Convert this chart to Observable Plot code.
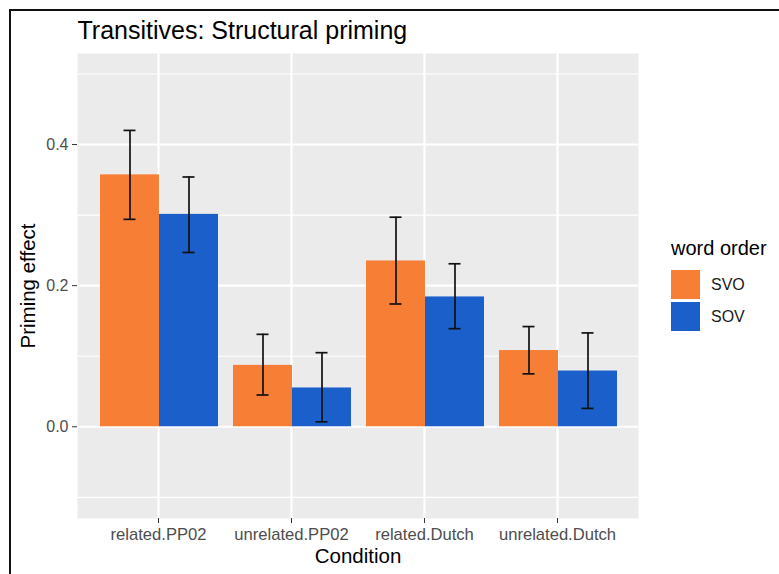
<!DOCTYPE html>
<html>
<head>
<meta charset="utf-8">
<script src="https://cdn.jsdelivr.net/npm/d3@7"></script>
<script src="https://cdn.jsdelivr.net/npm/@observablehq/plot@0.6"></script>
<style>
  body { margin: 0; background: #fff; }
  #chart { position: relative; width: 779px; height: 574px; overflow: hidden; font-family: "Liberation Sans", Arial, sans-serif; }
  #chart svg { position: absolute; left: 0; top: 0; }
  #edge { position: absolute; left: 9px; top: 9px; right: -20px; bottom: -20px; border-top: 2px solid #111; border-left: 2px solid #111; }
  #legend { position: absolute; left: 671px; top: 237px; color: #000; }
  #legend .title { font-size: 20px; line-height: 22px; height: 33px; }
  #legend .item { display: flex; align-items: center; height: 29px; margin-bottom: 3px; }
  #legend .key { width: 29px; height: 29px; margin-right: 11px; }
  #legend .label { font-size: 16px; color: #1a1a1a; }
</style>
</head>
<body>
<div id="chart">
  <div id="edge"></div>
</div>
<script>
// Conditions on the x axis and the two word orders within each condition
const conditions = ["related.PP02", "unrelated.PP02", "related.Dutch", "unrelated.Dutch"];
const orders = ["SVO", "SOV"];
const orderColors = ["#F77E35", "#1B5FCB"];

// Mean priming effect with lower/upper error-bar limits, per condition
const svoMean = [0.357, 0.087, 0.235, 0.108];
const svoLow  = [0.294, 0.045, 0.174, 0.075];
const svoHigh = [0.420, 0.131, 0.297, 0.142];
const sovMean = [0.301, 0.055, 0.184, 0.079];
const sovLow  = [0.247, 0.007, 0.139, 0.026];
const sovHigh = [0.354, 0.105, 0.231, 0.133];

// y axis: labelled breaks and minor grid breaks
const yMajor = [0, 0.2, 0.4];
const yMinor = [-0.1, 0.1, 0.3, 0.5];
const yDomain = [-0.13, 0.529];

const titleText = "Transitives: Structural priming";
const xTitle = "Condition";
const yTitle = "Priming effect";
const legendTitle = "word order";

const rows = conditions.flatMap((c, i) => [
  {condition: c, order: orders[0], mean: svoMean[i], low: svoLow[i], high: svoHigh[i]},
  {condition: c, order: orders[1], mean: sovMean[i], low: sovLow[i], high: sovHigh[i]}
]);

const frame = {width: 779, height: 574, marginLeft: 77, marginRight: 141, marginTop: 53, marginBottom: 56};
const font = '"Liberation Sans", Arial, sans-serif';

// Panel: grey background, grid, axes and titles
const panel = Plot.plot({
  ...frame,
  style: {fontFamily: font, background: "transparent", overflow: "visible"},
  x: {type: "point", domain: conditions, padding: 0.6},
  y: {domain: yDomain},
  marks: [
    Plot.frame({fill: "#EBEBEB", stroke: "none"}),
    Plot.ruleY(yMinor, {stroke: "#fff", strokeWidth: 1.1}),
    Plot.ruleY(yMajor, {stroke: "#fff", strokeWidth: 2.2}),
    Plot.ruleX(conditions, {stroke: "#fff", strokeWidth: 2.2}),
    Plot.axisY({ticks: yMajor, tickFormat: d3.format(".1f"), tickSize: 5, tickPadding: 4, fontSize: 16, stroke: "#333", fill: "#4d4d4d", label: null}),
    Plot.axisX({tickSize: 5, tickPadding: 5, fontSize: 16.6, stroke: "#333", fill: "#4d4d4d", label: null}),
    Plot.text([titleText], {frameAnchor: "top-left", textAnchor: "start", lineAnchor: "bottom", dy: -15, fontSize: 25, fill: "#000"}),
    Plot.text([xTitle], {frameAnchor: "bottom", textAnchor: "middle", lineAnchor: "middle", dy: 38, fontSize: 20.5, fill: "#000"}),
    Plot.text([yTitle], {frameAnchor: "left", textAnchor: "middle", rotate: -90, lineAnchor: "middle", dx: -49, fontSize: 20.5, fill: "#000"})
  ]
});

// Dodged bars with error bars, one facet per condition
const bars = Plot.plot({
  ...frame,
  style: {fontFamily: font, background: "transparent"},
  fx: {domain: conditions, paddingInner: 0, paddingOuter: 0.1, axis: null, label: null},
  x: {domain: orders, paddingInner: 0, paddingOuter: 1 / 9, axis: null},
  y: {domain: yDomain, axis: null},
  color: {domain: orders, range: orderColors},
  marks: [
    Plot.barY(rows, {fx: "condition", x: "order", y: "mean", fill: "order"}),
    Plot.ruleX(rows, {fx: "condition", x: "order", y1: "low", y2: "high", stroke: "#111", strokeWidth: 1.7}),
    Plot.tickY(rows, {fx: "condition", x: "order", y: "low", stroke: "#111", strokeWidth: 1.7, insetLeft: 23.5, insetRight: 23.5}),
    Plot.tickY(rows, {fx: "condition", x: "order", y: "high", stroke: "#111", strokeWidth: 1.7, insetLeft: 23.5, insetRight: 23.5})
  ]
});

const chart = document.getElementById("chart");
chart.appendChild(panel);
chart.appendChild(bars);

// Legend for word order
const legend = document.createElement("div");
legend.id = "legend";
const lt = document.createElement("div");
lt.className = "title";
lt.textContent = legendTitle;
legend.appendChild(lt);
orders.forEach((o, i) => {
  const item = document.createElement("div");
  item.className = "item";
  const key = document.createElement("div");
  key.className = "key";
  key.style.background = orderColors[i];
  const label = document.createElement("span");
  label.className = "label";
  label.textContent = o;
  item.appendChild(key);
  item.appendChild(label);
  legend.appendChild(item);
});
chart.appendChild(legend);
</script>
</body>
</html>
